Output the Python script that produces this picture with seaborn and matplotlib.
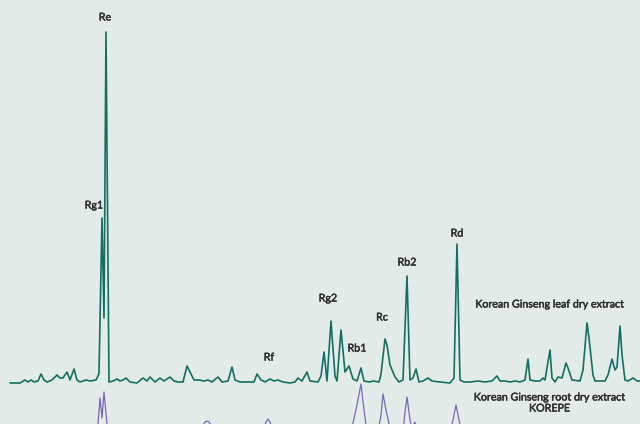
import matplotlib
matplotlib.use("Agg")
import matplotlib.pyplot as plt
import matplotlib.patheffects as pe
import seaborn as sns
import pandas as pd

# Retention time (min) and detector response for the leaf extract
leaf_rt = [1.0, 2.0, 2.5, 2.8, 3.1, 3.4, 3.8, 4.1, 4.4, 4.7, 5.2, 5.7, 6.0, 6.3, 6.7,
           7.0, 7.4, 7.7, 8.0, 8.6, 9.0, 9.6, 9.8, 9.9, 10.2, 10.4, 10.6, 10.9, 11.3,
           11.7, 12.0, 12.3, 12.6, 13.0, 13.7, 14.3, 14.7, 15.0, 15.5, 16.0, 16.4,
           17.0, 17.4, 17.8, 18.3, 18.7, 19.0, 19.4, 19.9, 20.4, 20.8, 21.2, 21.8,
           22.2, 22.8, 23.2, 23.5, 24.0, 25.0, 25.4, 25.7, 26.1, 26.5, 27.0, 27.4,
           27.8, 28.3, 29.0, 29.5, 29.8, 30.2, 30.7, 31.0, 31.8, 32.1, 32.4, 32.7,
           33.1, 33.5, 33.7, 34.1, 34.5, 34.9, 35.3, 35.7, 36.1, 36.4, 37.0, 37.3,
           37.9, 38.1, 38.5, 38.7, 39.0, 39.5, 39.9, 40.3, 40.7, 41.0, 41.3, 41.6,
           41.9, 42.3, 42.8, 43.2, 44.0, 45.0, 45.4, 45.7, 46.0, 46.4, 47.0, 47.8,
           48.5, 49.2, 49.7, 50.0, 50.5, 51.0, 51.5, 52.0, 52.5, 52.8, 53.0, 53.5,
           54.0, 54.3, 54.5, 55.0, 55.2, 55.5, 55.8, 56.2, 56.6, 56.8, 57.2, 58.0,
           58.3, 58.7, 58.9, 59.3, 59.5, 60.5, 60.8, 61.2, 61.5, 61.7, 62.0, 62.2,
           62.5, 62.8, 63.3, 63.7, 64.0]
leaf_signal = [-1, -1, 2, 0, 2, 0, 1, 8, 2, 0, 2, 7, 4, 4, 10,
               2, 13, 2, 0, 2, 1, 2, 6, 9, 164, 64, 350, 0, 1,
               3, 1, 2, 4, 0, -1, 4, 1, 5, 0, 4, 1,
               5, 1, 0, 0, 16, 10, 2, 2, 1, 2, 0, 5,
               0, 1, 15, 2, 0, 0, 0, 8, 2, 0, 3, 1,
               2, 0, -1, 0, 4, 1, 10, 1, 0, 6, 30, 1,
               61, 6, 1, 52, 10, 16, 3, 1, 14, 1, 0, 1,
               0, 8, 43, 37, 17, 5, 0, 2, 106, 2, 4, 13,
               0, 1, 4, 1, 0, -1, 4, 138, 2, 0, 0, 1,
               0, 1, 6, 1, 1, 0, 1, 0, 2, 23, 2, 1,
               1, 4, 2, 32, 4, 0, 5, 4, 19, 14, 2, 1,
               12, 59, 44, 7, 1, 1, 7, 23, 12, 15, 56, 27,
               2, 1, 4, 1, 1]

# Root extract (KOREPE) trace, stacked below the leaf trace; only the peak
# windows reach into view, each window is drawn as its own segment
root_window = [1] * 7 + [2] * 7 + [3] * 5 + [4] * 6 + [5] * 6 + [6] * 8 + [7] * 5
root_rt = [9.5, 9.8, 10.0, 10.2, 10.4, 10.7, 11.0,
           20.0, 20.3, 20.5, 20.7, 20.9, 21.1, 21.4,
           26.2, 26.6, 26.8, 27.0, 27.3,
           35.0, 35.3, 35.7, 36.1, 36.4, 36.7,
           37.8, 38.1, 38.3, 38.6, 39.0, 39.3,
           40.3, 40.5, 40.7, 41.0, 41.2, 41.5, 41.7, 42.0,
           45.0, 45.3, 45.6, 45.9, 46.2]
root_signal = [0, 8, 34, 14, 40, 8, 0,
               0, 7, 10, 11, 10, 7, 0,
               0, 10, 13, 10, 0,
               0, 9, 27, 48, 22, 0,
               0, 17, 38, 22, 4, 0,
               0, 20, 35, 12, 4, 10, 0, 0,
               0, 12, 27, 12, 0]
root_offset = -50

peak_names = ["Re", "Rg1", "Rf", "Rg2", "Rb1", "Rc", "Rb2", "Rd"]
peak_label_rt = [10.5, 9.4, 26.9, 32.8, 35.7, 38.2, 40.7, 45.7]
peak_label_y = [365, 177, 25, 84, 34, 65, 120, 149]

leaf_df = pd.DataFrame({"rt": leaf_rt, "signal": leaf_signal})
root_df = pd.DataFrame({"rt": root_rt, "window": root_window,
                        "signal": [v + root_offset for v in root_signal]})

bg = "#e3ebe9"
sns.set_theme(style="white")
plt.rcParams["font.family"] = ["Lato", "DejaVu Sans"]

fig = plt.figure(figsize=(6.4, 4.24), dpi=100, facecolor=bg)
ax = fig.add_axes([0, 0, 1, 1], facecolor=bg)

sns.lineplot(data=root_df, x="rt", y="signal", units="window", ax=ax,
             color="#7a68b4", linewidth=0.9, estimator=None)
sns.lineplot(data=leaf_df, x="rt", y="signal", ax=ax, color="#136f61",
             linewidth=1.2, estimator=None)

ax.set_xlim(0, 64)
ax.set_ylim(-42, 382)
ax.set_axis_off()

txt = "#2e2e2e"
fs = 7.7
heavier = [pe.withStroke(linewidth=0.35, foreground=txt)]
for name, x, y in zip(peak_names, peak_label_rt, peak_label_y):
    ax.text(x, y, name, ha="center", va="center", fontsize=fs, color=txt,
            path_effects=heavier)

for label, y in [("Korean Ginseng leaf dry extract", 78),
                 ("Korean Ginseng root dry extract", -15),
                 ("KOREPE", -26)]:
    ax.text(54.95, y, label, ha="center", va="center", fontsize=fs, color=txt,
            path_effects=heavier)

fig.savefig("out.png", dpi=100, facecolor=bg)
